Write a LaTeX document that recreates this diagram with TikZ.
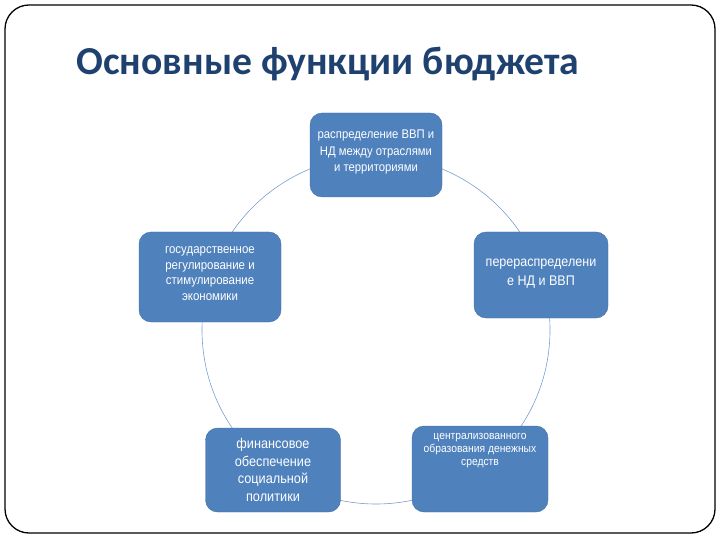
\documentclass[tikz,border=0pt]{standalone}
\usepackage{fontspec}
\setmainfont{Carlito}
\newfontfamily\narrowfont[FakeStretch=0.9]{Liberation Sans}
\usetikzlibrary{positioning,calc}

\definecolor{boxblue}{HTML}{4F81BD}
\definecolor{ringblue}{HTML}{7A9FCF}
\definecolor{titleblue}{HTML}{1F4170}

\begin{document}
\begin{tikzpicture}[
    x=1bp, y=-1bp,
    % ---- styles -------------------------------------------------
    func/.style={
        rounded corners=12bp, fill=boxblue, draw=boxblue!85!black,
        line width=0.4pt, minimum width=134bp, minimum height=86bp,
        inner sep=0pt},
    label/.style={align=center, text=white, inner sep=0pt},
    ring/.style={draw=ringblue, line width=0.6pt},
    frame/.style={draw=black, line width=1.3pt, rounded corners=24bp},
]
\useasboundingbox (0,0) rectangle (720,540);

% =================== frame and title ==========================
\draw[frame] (5,5) rectangle (715,533);
\node[anchor=base west, font=\bfseries\fontsize{39.8}{44}\selectfont, text=titleblue]
    (title) at (73,75) {Основные функции бюджета};

% =================== ring (behind boxes) ======================
\coordinate (centre) at (376,330);
\draw[ring] (centre) circle[radius=174];

% =================== function boxes ===========================
\node[func, minimum width=132bp, minimum height=84bp] (distrib) at (376,155) {};
\node[func, minimum width=142bp, minimum height=90bp] (regul) at (210,277) {};
\node[func] (redist) at (541,275) {};
\node[func, minimum width=135bp, minimum height=84bp] (social) at (273,470) {};
\node[func, minimum width=136bp] (fund) at (480,469) {};

% =================== box texts ================================
\node[label, font=\narrowfont\fontsize{12.6}{16.5}\selectfont]
    (distribtext) at ([yshift=3bp]distrib.center)
    {распределение ВВП и\\ НД между отраслями\\ и территориями};
\node[label, font=\narrowfont\fontsize{12.8}{15.5}\selectfont]
    (regultext) at ([yshift=3.5bp]regul.center)
    {государственное\\ регулирование и\\ стимулирование\\ экономики};
\node[label, font=\narrowfont\fontsize{14}{19}\selectfont]
    (redisttext) at ([yshift=1.5bp]redist.center)
    {перераспределени\\ е НД и ВВП};
\node[label, font=\narrowfont\fontsize{14.2}{17.5}\selectfont]
    (socialtext) at (social.center)
    {финансовое\\ обеспечение\\ социальной\\ политики};
\node[label, anchor=north, font=\narrowfont\fontsize{11.5}{13}\selectfont]
    (fundtext) at ([yshift=-7bp]fund.north)
    {централизованного\\ образования денежных\\ средств};

\end{tikzpicture}
\end{document}
